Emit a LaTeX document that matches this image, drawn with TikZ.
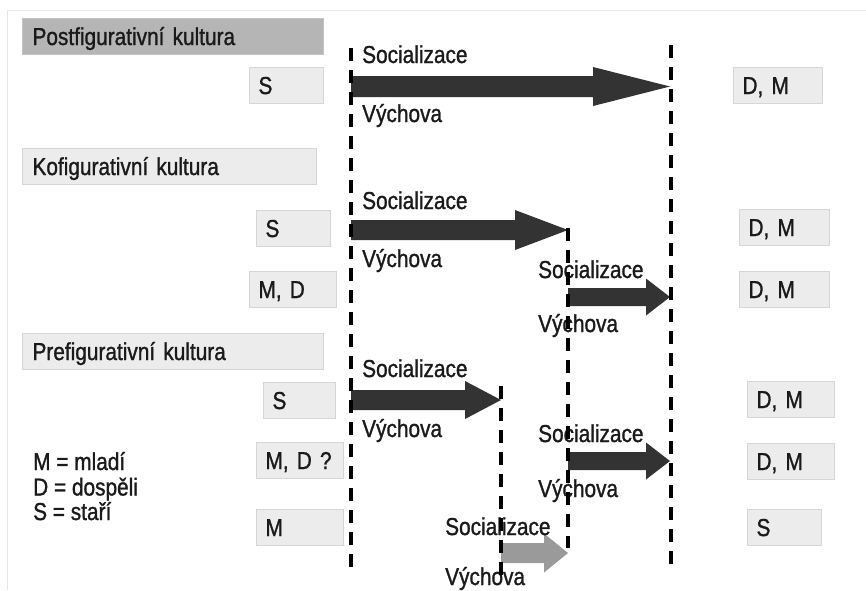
\documentclass[tikz,border=0pt]{standalone}
\usepackage{fontspec}
\setmainfont[FakeStretch=0.85,FakeBold=1.1]{Liberation Sans}
\usetikzlibrary{calc}
\definecolor{arrdark}{HTML}{333333}
\definecolor{arrlight}{HTML}{9A9A9A}
\definecolor{boxfill}{HTML}{ECECEC}
\definecolor{boxline}{HTML}{D6D6D6}
\definecolor{hdfill}{HTML}{B5B5B5}
\definecolor{hdline}{HTML}{C4C4C4}
\definecolor{frameline}{HTML}{E6E6E6}
\definecolor{txt}{HTML}{1A1A1A}
% #1 colour, #2 start, #3 end, #4 head length, #5 half head width, #6 half shaft width
\newcommand\fatarrow[6]{%
  \fill[#1] ($(#2)+(0,-#6)$) -- ($(#3)+(-#4,-#6)$) -- ($(#3)+(-#4,-#5)$) -- (#3)
    -- ($(#3)+(-#4,#5)$) -- ($(#3)+(-#4,#6)$) -- ($(#2)+(0,#6)$) -- cycle;}
\begin{document}
\begin{tikzpicture}[x=1pt,y=-1pt,
  font=\fontsize{24.5}{28}\selectfont, text=txt,
  cbox/.style={draw=boxline, line width=1pt, fill=boxfill, anchor=north west,
    minimum height=36pt, inner xsep=9pt, inner ysep=0pt, text height=17pt, text depth=0pt, align=left},
  hbox/.style={cbox, inner xsep=10pt},
  dark/.style={fill=hdfill, draw=hdline},
  lbl/.style={anchor=base west, inner sep=0pt},
  dashline/.style={line width=3.5pt, dash pattern=on 13pt off 9pt},
]
\useasboundingbox (0,0) rectangle (866,590);
\fill[white] (0,0) rectangle (866,590);
\draw[frameline, line width=1pt] (7,590) -- (7,10) -- (866,10);

% headers
\node[hbox, dark, text width=281pt] (hP) at (22,18) {Postfigurativní kultura};
\node[hbox, text width=274pt] (hK) at (22,148) {Kofigurativní kultura};
\node[hbox, text width=281pt] (hR) at (22,333) {Prefigurativní kultura};

% left boxes
\node[cbox, text width=56pt] (pS) at (249,67) {S};
\node[cbox, text width=56pt] (kS) at (256,210) {S};
\node[cbox, text width=69pt] (kMD) at (249,271) {M, D};
\node[cbox, text width=54pt] (rS) at (263,382) {S};
\node[cbox, text width=69pt] (rMD) at (256,442) {M, D ?};
\node[cbox, text width=69pt] (rM) at (256,509) {M};

% right boxes
\node[cbox, text width=71pt] (pDM) at (733,67) {D, M};
\node[cbox, text width=72pt] (kDM1) at (739,209) {D, M};
\node[cbox, text width=72pt] (kDM2) at (739,271) {D, M};
\node[cbox, text width=69pt] (rDM1) at (747,381) {D, M};
\node[cbox, text width=69pt] (rDM2) at (747,443) {D, M};
\node[cbox, text width=56pt] (rS2) at (747,509) {S};

% legend
\node[lbl] (lgM) at (33,470) {M = mladí};
\node[lbl] (lgD) at (33,495.5) {D = dospěli};
\node[lbl] (lgS) at (33,520) {S = staří};

% arrow end points
\coordinate (a1s) at (351,86.5); \coordinate (a1e) at (670,86.5);
\coordinate (a2s) at (351,230);  \coordinate (a2e) at (568,230);
\coordinate (a3s) at (568,297);  \coordinate (a3e) at (670,297);
\coordinate (a4s) at (351,400);  \coordinate (a4e) at (501,400);
\coordinate (a5s) at (568,461);  \coordinate (a5e) at (670,461);
\coordinate (a6s) at (501,553);  \coordinate (a6e) at (568,553);

\fatarrow{arrdark}{a1s}{a1e}{77}{19.5}{10.5}
\fatarrow{arrdark}{a2s}{a2e}{53}{20}{10}
\fatarrow{arrdark}{a3s}{a3e}{24}{18.5}{9}
\fatarrow{arrdark}{a4s}{a4e}{36}{19}{10}
\fatarrow{arrdark}{a5s}{a5e}{24}{18.5}{9}
\fatarrow{arrlight}{a6s}{a6e}{24}{19.5}{10}

% labels
\node[lbl] (s1) at (362,63) {Socializace};
\node[lbl] (v1) at (362,122) {Výchova};
\node[lbl] (s2) at (362,209) {Socializace};
\node[lbl] (v2) at (362,267) {Výchova};
\node[lbl] (s3) at (538,278) {Socializace};
\node[lbl] (v3) at (538,332) {Výchova};
\node[lbl] (s4) at (362,377) {Socializace};
\node[lbl] (v4) at (362,437) {Výchova};
\node[lbl] (s5) at (538,442) {Socializace};
\node[lbl] (v5) at (538,497) {Výchova};
\node[lbl] (s6) at (445,535) {Socializace};
\node[lbl] (v6) at (445,585) {Výchova};

% dashed lines
\coordinate (l1t) at (351,48);  \coordinate (l1b) at (351,572);
\coordinate (l2t) at (671,45);  \coordinate (l2b) at (671,565);
\coordinate (l3t) at (568,228); \coordinate (l3b) at (568,548);
\coordinate (l4t) at (501,386); \coordinate (l4b) at (501,580);
\draw[dashline] (l1t) -- (l1b);
\draw[dashline] (l2t) -- (l2b);
\draw[dashline] (l3t) -- (l3b);
\draw[dashline] (l4t) -- (l4b);
\end{tikzpicture}
\end{document}
